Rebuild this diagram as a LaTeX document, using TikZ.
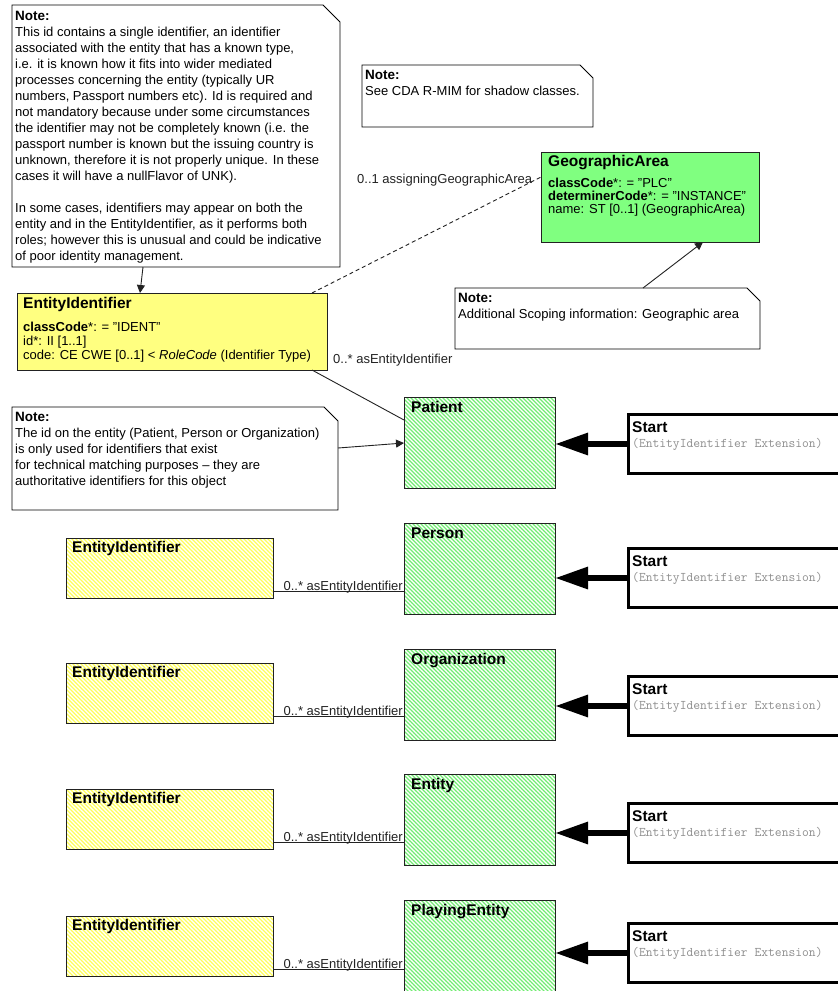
\documentclass[tikz,border=0pt]{standalone}
\usepackage{fontspec}
\setmainfont{Liberation Sans}
\usetikzlibrary{arrows.meta,patterns.meta,calc}
\definecolor{cyel}{HTML}{FFFF80}
\definecolor{cgrn}{HTML}{80FF80}
\definecolor{hgrn}{HTML}{70EC70}
\definecolor{hyel}{HTML}{FFFF55}
\definecolor{cline}{HTML}{222222}
\definecolor{cmono}{HTML}{8E8E8E}
\tikzset{
  anchorbox/.style={anchor=north west, inner sep=0pt, outer sep=0pt},
  noteline/.style={draw=black, line width=0.9pt, fill=white, line join=miter},
  notetxt/.style={anchor=north west, inner sep=0pt, align=left, font=\fontsize{13}{16}\selectfont},
  ybox/.style={anchorbox, draw=cline, line width=0.9pt, fill=cyel},
  gbox/.style={anchorbox, draw=cline, line width=0.9pt, fill=cgrn},
  hatchpat/.style={pattern={Lines[angle=-45,distance=2.8284pt,line width=1.15pt]}},
  hgbox/.style={anchorbox, draw=cline, line width=0.9pt, hatchpat, pattern color=hgrn, minimum width=151pt, minimum height=91pt},
  hybox/.style={anchorbox, draw=cline, line width=0.9pt, hatchpat, pattern color=hyel, minimum width=207pt, minimum height=60pt},
  startbox/.style={anchorbox, draw=black, line width=3pt, fill=white, minimum width=240pt, minimum height=59pt},
  ttl/.style={anchor=base west, inner sep=0pt, font=\fontsize{15.5}{15.5}\selectfont\bfseries},
  att/.style={anchor=base west, inner sep=0pt, font=\fontsize{13}{13}\selectfont},
  lbl/.style={anchor=base west, inner sep=0pt, font=\fontsize{13}{13}\selectfont, text=cline},
  monotxt/.style={anchor=base west, inner sep=0pt, font=\ttfamily\fontsize{13.2}{13.2}\selectfont, text=cmono},
  conn/.style={draw=cline, line width=0.9pt},
  arr/.style={conn, -{Triangle[length=8pt,width=8pt]}},
  dashconn/.style={conn, dash pattern=on 4pt off 3pt},
  bigarrow/.style={draw=black, line width=6pt, -{Triangle[length=33pt,width=21pt]}},
}
\newcommand\notehead{{\fontsize{13.5}{16}\selectfont\bfseries Note:}}
\newcommand\foldnote[2]{\draw[noteline] (#1.north west) -- ([xshift=-#2]#1.north east) -- ([yshift=-#2]#1.north east) -- (#1.south east) -- (#1.south west) -- cycle;}
\begin{document}
\begin{tikzpicture}[x=1pt,y=-1pt]
\clip (0,0) rectangle (838,991);
\fill[white] (0,0) rectangle (838,991);

% ---------- top note
\node[anchorbox, minimum width=328pt, minimum height=262pt] (n1) at (12,5) {};
\foldnote{n1}{17pt}
\node[notetxt] (n1t) at (15,11) {\notehead\\
This id contains a single identifier, an identifier\\
associated with the entity that has a known type,\\
i.e. it is known how it fits into wider mediated\\
processes concerning the entity (typically UR\\
numbers, Passport numbers etc). Id is required and\\
not mandatory because under some circumstances\\
the identifier may not be completely known (i.e. the\\
passport number is known but the issuing country is\\
unknown, therefore it is not properly unique. In these\\
cases it will have a nullFlavor of UNK).\\[16pt]
In some cases, identifiers may appear on both the\\
entity and in the EntityIdentifier, as it performs both\\
roles; however this is unusual and could be indicative\\
of poor identity management.};

% ---------- shadow classes note
\node[anchorbox, minimum width=231pt, minimum height=62pt] (n2) at (362,65) {};
\foldnote{n2}{13pt}
\node[notetxt] (n2t) at (365,70) {\notehead\\See CDA R-MIM for shadow classes.};

% ---------- GeographicArea
\node[gbox, minimum width=218pt, minimum height=90pt] (ga) at (541,152) {};
\node[ttl] (gat) at (548,166) {GeographicArea};
\node[att] (ga1) at (548,187) {\textbf{classCode}*: = "PLC"};
\node[att] (ga2) at (548,200) {\textbf{determinerCode}*: = "INSTANCE"};
\node[att] (ga3) at (548,213) {name: ST [0..1] (GeographicArea)};

% ---------- scoping note
\node[anchorbox, minimum width=305pt, minimum height=61pt] (n3) at (455,288) {};
\foldnote{n3}{13pt}
\node[notetxt] (n3t) at (458,293) {\notehead\\Additional Scoping information: Geographic area};

% ---------- main EntityIdentifier
\node[ybox, minimum width=310pt, minimum height=77pt] (ei) at (17,293) {};
\node[ttl] (eit) at (23,308) {EntityIdentifier};
\node[att] (ei1) at (23,331) {\textbf{classCode}*: = "IDENT"};
\node[att] (ei2) at (23,345) {id*: II [1..1]};
\node[att] (ei3) at (23,359) {code: CE CWE [0..1] < \textit{RoleCode} (Identifier Type)};

% ---------- lower-left note
\node[anchorbox, minimum width=326pt, minimum height=103pt] (n4) at (12,407) {};
\foldnote{n4}{14pt}
\node[notetxt] (n4t) at (15,412) {\notehead\\
The id on the entity (Patient, Person or Organization)\\
is only used for identifiers that exist\\
for technical matching purposes -- they are\\
authoritative identifiers for this object};

% ---------- entity rows
\foreach \nm/\G/\S/\t in {gp/397/413/Patient, gq/523/547/Person, go/649/675/Organization, ge/774/802/Entity, gy/900/922/PlayingEntity}{
  \node[hgbox] (\nm) at (404,\G) {};
  \node[ttl] (\nm t) at (411,\G+15) {\t};
  \node[startbox] (\nm s) at (628.5,\S+1.5) {};
  \node[ttl] (\nm st) at (632,\S+19) {Start};
  \node[monotxt] (\nm sm) at (632,\S+34) {(EntityIdentifier Extension)};
  \draw[bigarrow] (\nm s.west) -- (\nm s.west -| \nm.east);
}

% ---------- hatched EntityIdentifier boxes
\foreach \nm/\Y in {gq/538, go/663, ge/789, gy/916}{
  \node[hybox] (y\nm) at (66,\Y) {};
  \node[ttl] (y\nm t) at (72,\Y+14) {EntityIdentifier};
  \coordinate (c\nm) at ([yshift=6.5pt]y\nm.south east);
  \draw[conn] (c\nm) -- (c\nm -| \nm.west);
  \node[lbl, anchor=base east] (l\nm) at ([xshift=-1pt,yshift=1pt]c\nm -| \nm.west) {0..* asEntityIdentifier};
}

% ---------- connectors of upper part
\draw[arr] ([xshift=131pt]n1.south west) -- ([xshift=123pt]ei.north west);
\draw[dashconn] ([xshift=-15pt]ei.north east) -- ([yshift=-25pt]ga.north west);
\node[lbl] (lga) at (357,183) {0..1 assigningGeographicArea};
\draw[conn] ([xshift=-15pt]ei.south east) -- ([yshift=-23pt]gp.north west);
\node[lbl] (lei) at (333,363) {0..* asEntityIdentifier};
\draw[arr] ([yshift=-41pt]n4.north east) -- ([yshift=-46pt]gp.north west);
\draw[arr] ([xshift=188pt]n3.north west) -- ([xshift=162pt]ga.south west);
\end{tikzpicture}
\end{document}
